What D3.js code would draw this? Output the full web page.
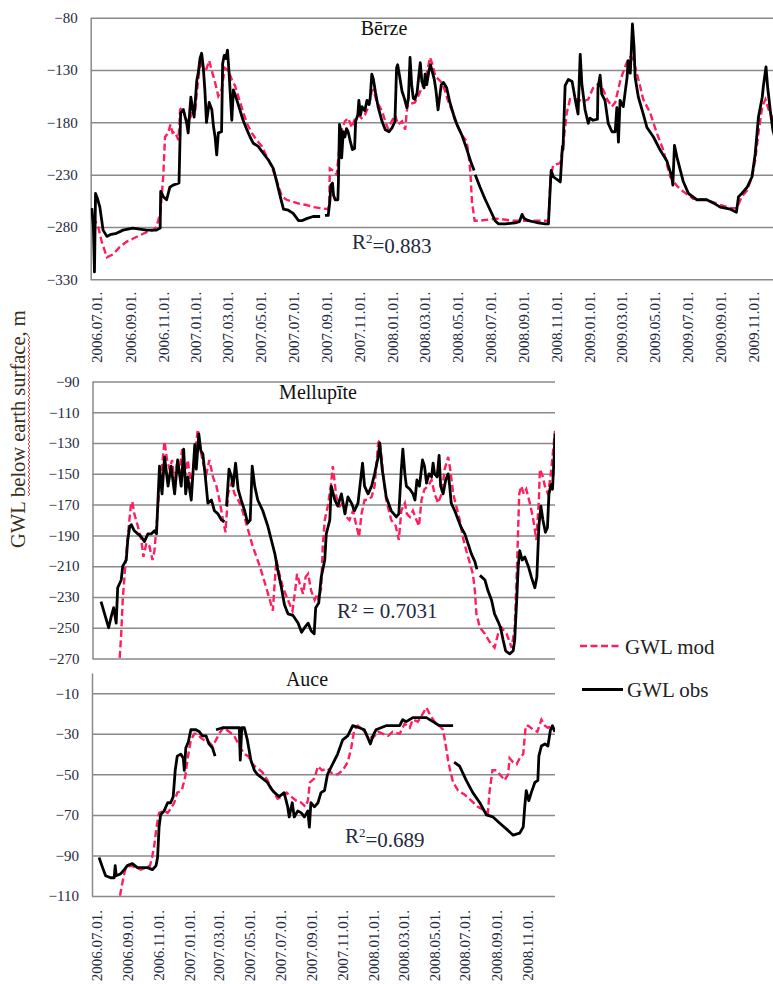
<!DOCTYPE html>
<html>
<head>
<meta charset="utf-8">
<script src="https://cdn.jsdelivr.net/npm/d3@7/dist/d3.min.js"></script>
<style>
  body { margin: 0; background: #fff; }
  svg { display: block; }
  text { font-family: 'Liberation Serif', 'Times New Roman', serif; }
</style>
</head>
<body>
<div id="chart"></div>
<script>
// day offsets are counted from 2006-07-01; null marks a break in the record
const START = new Date(2006, 6, 1)

const berzeObs = [[-9,-262],[-6,-280],[-4,-323],[-2,-248],[1,-252],[6,-261],[12,-283],[19,-289],[27,-287],[37,-286],[49,-283],[67,-281],[80,-282],[93,-283],[111,-283],[118,-281],[119,-246],[124,-251],[130,-254],[136,-242],[142,-240],[153,-238],[156,-171],[161,-168],[167,-180],[170,-190],[175,-156],[178,-166],[181,-175],[186,-140],[189,-132],[192,-119],[195,-114],[198,-127],[201,-149],[204,-180],[209,-161],[214,-168],[217,-184],[220,-194],[223,-211],[226,-190],[232,-189],[234,-124],[237,-116],[240,-119],[243,-111],[246,-133],[251,-178],[254,-149],[260,-158],[266,-168],[272,-178],[279,-187],[285,-194],[291,-200],[300,-203],[310,-210],[319,-216],[328,-224],[334,-236],[341,-251],[347,-263],[356,-264],[365,-267],[375,-274],[381,-274],[390,-272],[402,-270],[415,-270],[419,null],[424,-269],[430,-269],[433,-256],[435,-240],[438,-238],[440,-250],[443,-254],[448,-254],[449,-237],[451,-182],[454,-189],[455,-214],[458,-189],[461,-194],[464,-186],[467,-189],[471,-198],[475,-206],[479,-205],[481,-179],[485,-173],[487,-159],[490,-173],[493,-165],[498,-169],[502,-159],[506,-163],[508,-157],[511,-134],[514,-139],[518,-152],[523,-166],[530,-179],[536,-187],[543,-189],[549,-185],[554,-179],[557,-128],[559,-125],[562,-134],[567,-150],[572,-158],[576,-166],[579,-157],[582,-118],[585,-144],[588,-157],[591,-158],[595,-152],[598,-137],[601,-123],[604,-141],[608,-147],[610,-134],[613,-144],[617,-131],[620,-125],[624,-133],[627,-139],[630,-149],[634,-168],[636,-160],[640,-144],[644,-142],[650,-147],[656,-161],[663,-173],[669,-182],[678,-192],[687,-205],[695,-218],[701,-226],[702,null],[703,-230],[712,-242],[721,-253],[731,-264],[740,-274],[746,-277],[759,-277],[777,-276],[785,-275],[790,-268],[794,-272],[802,-274],[811,-275],[820,-276],[833,-277],[839,-277],[844,-226],[848,-232],[861,-237],[865,-203],[866,-206],[870,-145],[876,-139],[883,-141],[889,-159],[894,-172],[898,-115],[901,-143],[907,-168],[913,-181],[916,-176],[922,-178],[930,-177],[931,-147],[935,-135],[938,-153],[944,-159],[950,-181],[957,-189],[963,-189],[966,-166],[969,-199],[972,-159],[978,-165],[985,-137],[987,-121],[991,-133],[995,-86],[998,-108],[1000,-137],[1006,-156],[1015,-172],[1022,-185],[1034,-194],[1047,-207],[1059,-217],[1068,-232],[1070,-240],[1073,-202],[1078,-214],[1089,-236],[1099,-248],[1115,-254],[1133,-254],[1145,-257],[1158,-261],[1177,-263],[1188,-266],[1192,-251],[1198,-248],[1208,-242],[1217,-232],[1223,-210],[1229,-175],[1236,-156],[1238,-146],[1243,-127],[1246,-146],[1251,-169],[1256,-188],[1260,-195]]

const berzeMod = [[-9,-272],[-3,-274],[3,-280],[9,-293],[19,-309],[31,-306],[43,-299],[56,-294],[68,-291],[80,-288],[93,-285],[105,-283],[111,-280],[118,-267],[121,-250],[124,-229],[127,-194],[133,-190],[137,-182],[141,-190],[145,-189],[152,-197],[155,-168],[160,-165],[164,-174],[170,-181],[177,-171],[183,-169],[186,-152],[191,-129],[195,-121],[199,-131],[204,-129],[209,-121],[214,-131],[220,-142],[226,-155],[232,-149],[238,-128],[245,-131],[251,-139],[257,-145],[263,-155],[269,-165],[279,-181],[288,-190],[297,-197],[307,-203],[316,-213],[325,-222],[334,-235],[344,-251],[353,-254],[365,-256],[378,-258],[390,-259],[402,-261],[415,-262],[430,-263],[432,-256],[433,-224],[439,-226],[446,-230],[448,-218],[454,-189],[461,-179],[467,-176],[474,-185],[480,-176],[486,-173],[492,-176],[498,-173],[504,-166],[511,-150],[514,-149],[520,-160],[530,-169],[536,-179],[541,-186],[548,-179],[554,-173],[560,-182],[567,-179],[573,-187],[576,-169],[578,-163],[591,-161],[597,-155],[604,-147],[610,-141],[616,-126],[619,-118],[624,-125],[629,-136],[635,-139],[641,-142],[647,-150],[653,-160],[660,-169],[666,-179],[678,-192],[687,-198],[690,-208],[694,-227],[697,-256],[702,-274],[712,-274],[743,-272],[773,-274],[805,-274],[839,-274],[843,-232],[848,-221],[861,-219],[866,-203],[873,-171],[879,-158],[892,-158],[904,-160],[913,-158],[922,-147],[935,-142],[948,-158],[957,-165],[963,-161],[973,-139],[982,-126],[987,-120],[992,-117],[996,-119],[1003,-133],[1009,-145],[1015,-158],[1028,-171],[1040,-190],[1052,-206],[1065,-232],[1078,-241],[1089,-246],[1108,-253],[1133,-254],[1158,-259],[1177,-262],[1189,-262],[1198,-251],[1208,-245],[1217,-232],[1223,-216],[1229,-190],[1236,-165],[1242,-158],[1248,-168],[1256,-177],[1260,-182]]

const mellupiteObs = [[9,-233],[16,-241],[24,-250],[29,-243],[34,-237],[39,-247],[42,-224],[49,-219],[52,-210],[59,-206],[62,-193],[66,-184],[69,-183],[75,-187],[82,-189],[89,-191],[95,-194],[102,-189],[109,-189],[115,-187],[119,-189],[125,-145],[130,-163],[135,-139],[142,-158],[148,-145],[155,-163],[161,-141],[168,-158],[173,-134],[177,-163],[181,-152],[188,-167],[195,-131],[198,-147],[203,-124],[207,-135],[211,-137],[216,-152],[221,-169],[228,-167],[234,-174],[241,-176],[248,-180],[254,-181],[256,null],[258,-171],[263,-147],[268,-152],[271,-158],[276,-143],[281,-160],[287,-167],[294,-174],[300,-182],[305,-180],[309,-145],[314,-158],[320,-167],[330,-174],[340,-184],[347,-193],[354,-202],[360,-213],[367,-224],[373,-235],[380,-241],[390,-242],[400,-247],[407,-253],[413,-250],[420,-247],[426,-252],[432,-254],[435,-237],[441,-234],[446,-217],[453,-206],[456,-189],[463,-180],[466,-158],[473,-167],[479,-171],[486,-163],[493,-176],[499,-165],[506,-169],[512,-174],[519,-169],[528,-143],[532,-158],[539,-163],[546,-158],[552,-150],[559,-139],[562,-130],[567,-147],[575,-165],[585,-174],[595,-178],[600,-176],[605,-147],[608,-134],[612,-150],[615,-158],[622,-160],[628,-163],[632,-167],[636,-154],[641,-158],[647,-141],[651,-145],[655,-156],[660,-150],[665,-152],[668,-143],[671,-150],[676,-152],[680,-138],[683,-158],[688,-163],[693,-154],[698,-150],[701,-158],[704,-169],[711,-174],[718,-180],[724,-185],[731,-189],[737,-195],[744,-202],[751,-207],[755,-212],[758,null],[761,-216],[771,-219],[777,-226],[784,-232],[790,-241],[797,-246],[802,-250],[807,-258],[812,-265],[820,-267],[827,-265],[830,-258],[834,-232],[837,-210],[840,-200],[845,-206],[850,-204],[857,-210],[863,-217],[870,-224],[874,-217],[878,-184],[882,-171],[886,-180],[891,-188],[895,-185],[898,-163],[902,-157],[905,-160],[908,-141],[910,-124]]

const mellupiteMod = [[42,-290],[49,-254],[52,-232],[58,-206],[61,-195],[64,-184],[68,-171],[71,-168],[75,-176],[82,-184],[89,-193],[93,-204],[99,-195],[105,-197],[111,-206],[115,-200],[120,-180],[125,-158],[130,-145],[135,-129],[140,-141],[145,-147],[150,-141],[155,-156],[159,-145],[165,-147],[170,-134],[175,-152],[181,-141],[188,-158],[195,-139],[201,-121],[206,-134],[213,-145],[218,-150],[224,-141],[231,-152],[238,-158],[244,-167],[251,-180],[256,-188],[261,-163],[268,-156],[274,-163],[281,-167],[287,-171],[297,-182],[310,-197],[324,-210],[337,-224],[344,-232],[350,-239],[354,-219],[357,-206],[363,-215],[370,-224],[380,-232],[389,-239],[395,-224],[398,-215],[403,-221],[410,-228],[415,-217],[420,-215],[426,-226],[433,-232],[438,-228],[441,-232],[446,-224],[449,-197],[453,-180],[459,-171],[465,-158],[469,-145],[476,-165],[483,-171],[489,-169],[496,-178],[502,-180],[509,-174],[516,-184],[521,-191],[526,-176],[532,-167],[539,-167],[546,-165],[552,-158],[559,-130],[562,-128],[569,-150],[575,-167],[585,-180],[594,-184],[600,-193],[605,-174],[612,-169],[616,-176],[622,-178],[628,-174],[635,-180],[640,-184],[645,-167],[651,-160],[658,-158],[665,-154],[671,-163],[678,-169],[685,-163],[691,-147],[698,-139],[702,-147],[708,-163],[714,-171],[721,-180],[727,-191],[734,-200],[741,-208],[747,-215],[751,-226],[754,-241],[761,-250],[771,-254],[780,-259],[790,-263],[797,-254],[804,-250],[814,-254],[824,-263],[830,-250],[835,-206],[839,-163],[843,-158],[848,-163],[853,-160],[860,-169],[866,-178],[873,-193],[878,-167],[880,-147],[885,-151],[890,-158],[896,-163],[901,-152],[905,-139],[910,-122]]

const auceObs = [[6,-91],[13,-96],[19,-100],[29,-101],[36,-101],[38,-95],[40,-100],[49,-99],[56,-97],[62,-95],[72,-94],[82,-96],[92,-96],[102,-96],[112,-97],[119,-95],[122,-91],[125,-76],[128,-70],[135,-68],[142,-64],[148,-64],[153,-61],[157,-48],[161,-41],[168,-40],[173,-42],[175,-48],[178,-37],[183,-34],[188,-28],[198,-28],[205,-29],[211,-31],[218,-31],[224,-35],[231,-37],[236,-41],[237,null],[238,-28],[251,-27],[271,-27],[284,-27],[286,-43],[289,-27],[294,-27],[300,-33],[307,-43],[314,-48],[320,-50],[330,-52],[340,-54],[347,-57],[354,-59],[363,-61],[373,-59],[380,-66],[383,-71],[389,-64],[393,-71],[400,-68],[407,-69],[413,-71],[420,-68],[423,-76],[426,-64],[433,-66],[440,-64],[446,-59],[453,-58],[459,-50],[469,-45],[479,-40],[489,-33],[499,-31],[509,-26],[522,-27],[532,-28],[539,-32],[544,-35],[549,-31],[555,-28],[565,-27],[575,-26],[588,-26],[602,-26],[608,-23],[615,-24],[628,-22],[641,-22],[655,-22],[668,-24],[681,-26],[694,-26],[708,-26],[709,null],[710,-44],[721,-46],[734,-53],[747,-59],[761,-64],[774,-70],[787,-71],[800,-74],[814,-77],[827,-80],[840,-79],[847,-76],[850,-66],[853,-58],[858,-63],[863,-59],[870,-54],[876,-53],[878,-41],[883,-36],[890,-35],[896,-36],[901,-28],[905,-26],[910,-29]]

const auceMod = [[44,-115],[51,-105],[56,-99],[59,-96],[69,-95],[79,-96],[89,-97],[99,-96],[107,-95],[111,-91],[115,-86],[120,-76],[125,-69],[135,-68],[142,-69],[148,-67],[155,-64],[161,-59],[170,-58],[177,-51],[181,-43],[188,-33],[195,-30],[201,-30],[208,-32],[214,-33],[224,-34],[231,-36],[238,-33],[244,-30],[252,-27],[264,-29],[274,-31],[284,-36],[294,-40],[302,-41],[310,-45],[320,-47],[330,-49],[340,-53],[350,-58],[360,-62],[370,-61],[378,-59],[387,-61],[397,-63],[407,-64],[415,-66],[420,-63],[424,-54],[433,-52],[440,-46],[448,-48],[459,-47],[469,-50],[479,-50],[489,-48],[499,-44],[506,-37],[512,-28],[519,-26],[529,-28],[539,-31],[549,-32],[559,-29],[569,-30],[579,-31],[588,-29],[602,-30],[612,-25],[622,-27],[628,-23],[638,-24],[648,-20],[655,-17],[661,-20],[671,-24],[681,-26],[688,-28],[693,-35],[698,-43],[702,-48],[708,-54],[718,-58],[731,-60],[744,-63],[757,-66],[771,-68],[777,-69],[780,-59],[786,-48],[794,-48],[804,-51],[810,-53],[817,-50],[820,-42],[827,-44],[834,-45],[840,-42],[847,-40],[852,-26],[857,-26],[867,-28],[875,-29],[883,-23],[890,-26],[896,-27],[903,-26],[910,-29]]

const berzeYTicks = [-80, -130, -180, -230, -280, -330]
const mellupiteYTicks = [-90, -110, -130, -150, -170, -190, -210, -230, -250, -270]
const auceYTicks = [-10, -30, -50, -70, -90, -110]

const berzeXLabels = ['2006.07.01.', '2006.09.01.', '2006.11.01.', '2007.01.01.', '2007.03.01.', '2007.05.01.', '2007.07.01.', '2007.09.01.', '2007.11.01.', '2008.01.01.', '2008.03.01.', '2008.05.01.', '2008.07.01.', '2008.09.01.', '2008.11.01.', '2009.01.01.', '2009.03.01.', '2009.05.01.', '2009.07.01.', '2009.09.01.', '2009.11.01.']
const auceXLabels = ['2006.07.01.', '2006.09.01.', '2006.11.01.', '2007.01.01.', '2007.03.01.', '2007.05.01.', '2007.07.01.', '2007.09.01.', '2007.11.01.', '2008.01.01.', '2008.03.01.', '2008.05.01.', '2008.07.01.', '2008.09.01.', '2008.11.01.']

const width = 773
const height = 984
const serif = "'Liberation Serif', 'Times New Roman', serif"
const gridColor = '#8a8a8a'
const tickColor = '#1f2940'
const modColor = '#ff1f5e'

const parseLabel = d3.timeParse('%Y.%m.%d.')
const toDate = (d) => d3.timeDay.offset(START, d)

const svg = d3
  .select('#chart')
  .append('svg')
  .attr('width', width)
  .attr('height', height)

const panels = [
  { id: 'berze', title: 'Bērze', tx: 384, ty: 35, obs: berzeObs, mod: berzeMod, yTicks: berzeYTicks, yDomain: [-330, -80], top: 17.7, bottom: 279.3, left: 90.7, right: 773, dayDomain: [-11, 1256], xLabels: berzeXLabels, labelGap: 12.5, r2x: 352, r2y: 249, r2: 'sup', r2val: '=0.883' },
  { id: 'mell', title: 'Mellupīte', tx: 318, ty: 399, obs: mellupiteObs, mod: mellupiteMod, yTicks: mellupiteYTicks, yDomain: [-270, -90], top: 381.5, bottom: 658.5, left: 92.5, right: 555, dayDomain: [-8, 910], xLabels: null, r2x: 337, r2y: 618, r2: 'plain', r2val: 'R² = 0.7031' },
  { id: 'auce', title: 'Auce', tx: 307, ty: 686, obs: auceObs, mod: auceMod, yTicks: auceYTicks, yDomain: [-110, 0], top: 673, bottom: 896, left: 92, right: 555, dayDomain: [-8, 910], xLabels: auceXLabels, labelGap: 14, r2x: 345, r2y: 843, r2: 'sup', r2val: '=0.689' }
]

panels.forEach((p) => {
  const x = d3.scaleTime().domain(p.dayDomain.map(toDate)).range([p.left, p.right])
  const y = d3.scaleLinear().domain(p.yDomain).range([p.bottom, p.top])
  const g = svg.append('g')

  // value axis with gridlines
  const yAxis = g
    .append('g')
    .attr('transform', `translate(${p.left},0)`)
    .attr('font-family', serif)
    .call(d3.axisLeft(y).tickValues(p.yTicks).tickSize(-(p.right - p.left)).tickSizeOuter(0).tickPadding(13))
  yAxis.attr('font-family', serif)
  yAxis.select('.domain').attr('stroke', gridColor).attr('stroke-width', 1.5)
  yAxis.selectAll('.tick line').attr('stroke', gridColor).attr('stroke-width', 1.5)
  yAxis.selectAll('.tick text').attr('fill', tickColor).style('font-size', '15px').style('font-family', serif)

  if (p.xLabels) {
    const xAxis = g
      .append('g')
      .attr('transform', `translate(0,${p.bottom})`)
      .call(d3.axisBottom(x).tickValues(p.xLabels.map(parseLabel)).tickFormat(d3.timeFormat('%Y.%m.%d.')).tickSize(0))
    xAxis.attr('font-family', serif)
    xAxis.select('.domain').remove()
    xAxis
      .selectAll('.tick text')
      .attr('transform', 'rotate(-90)')
      .attr('text-anchor', 'end')
      .attr('x', -p.labelGap)
      .attr('y', 0)
      .attr('dy', '0.35em')
      .attr('fill', tickColor)
      .style('font-size', '15px')
      .style('font-family', serif)
  }

  g.append('clipPath')
    .attr('id', 'clip-' + p.id)
    .append('rect')
    .attr('x', p.left)
    .attr('y', p.top - 10)
    .attr('width', p.right - p.left)
    .attr('height', p.bottom - p.top + 10)

  const line = d3
    .line()
    .defined((d) => d[1] !== null)
    .x((d) => x(toDate(d[0])))
    .y((d) => y(d[1]))

  const lines = g.append('g').attr('clip-path', `url(#clip-${p.id})`)
  lines
    .append('path')
    .datum(p.mod)
    .attr('d', line)
    .attr('fill', 'none')
    .attr('stroke', modColor)
    .attr('stroke-width', 2.4)
    .attr('stroke-dasharray', '7,3.5')
  lines
    .append('path')
    .datum(p.obs)
    .attr('d', line)
    .attr('fill', 'none')
    .attr('stroke', '#000')
    .attr('stroke-width', 2.8)
    .attr('stroke-linejoin', 'round')

  g.append('text')
    .attr('x', p.tx)
    .attr('y', p.ty)
    .attr('text-anchor', 'middle')
    .style('font-size', '20px')
    .attr('fill', '#111')
    .text(p.title)

  const r2 = g.append('text').attr('x', p.r2x).attr('y', p.r2y).style('font-size', '21px').attr('fill', '#1f2940')
  if (p.r2 === 'sup') {
    r2.append('tspan').text('R')
    r2.append('tspan').attr('dy', '-0.45em').style('font-size', '13px').text('2')
    r2.append('tspan').attr('dy', '0.45em').text(p.r2val)
  } else {
    r2.text(p.r2val)
  }
})

// y title
svg
  .append('text')
  .attr('transform', 'translate(25,548) rotate(-90)')
  .style('font-size', '20.5px')
  .attr('fill', '#3a2f20')
  .text('GWL below earth surface, m')

// spell-check squiggle under the title
let sq = 'M28,496'
for (let yy = 494, k = 0; yy >= 336; yy -= 2, k++) sq += `L${k % 2 ? 28 : 30},${yy}`
svg.append('path').attr('d', sq).attr('fill', 'none').attr('stroke', '#e03030').attr('stroke-width', 0.9)

// legend
const legend = svg.append('g')
legend.append('line').attr('x1', 580).attr('x2', 622).attr('y1', 646).attr('y2', 646)
  .attr('stroke', modColor).attr('stroke-width', 2.4).attr('stroke-dasharray', '7,3.5')
legend.append('text').attr('x', 625).attr('y', 654).style('font-size', '21px').attr('fill', '#222').text('GWL mod')
legend.append('line').attr('x1', 582).attr('x2', 623).attr('y1', 689.5).attr('y2', 689.5)
  .attr('stroke', '#000').attr('stroke-width', 2.8)
legend.append('text').attr('x', 627).attr('y', 697).style('font-size', '21px').attr('fill', '#222').text('GWL obs')
</script>
</body>
</html>
